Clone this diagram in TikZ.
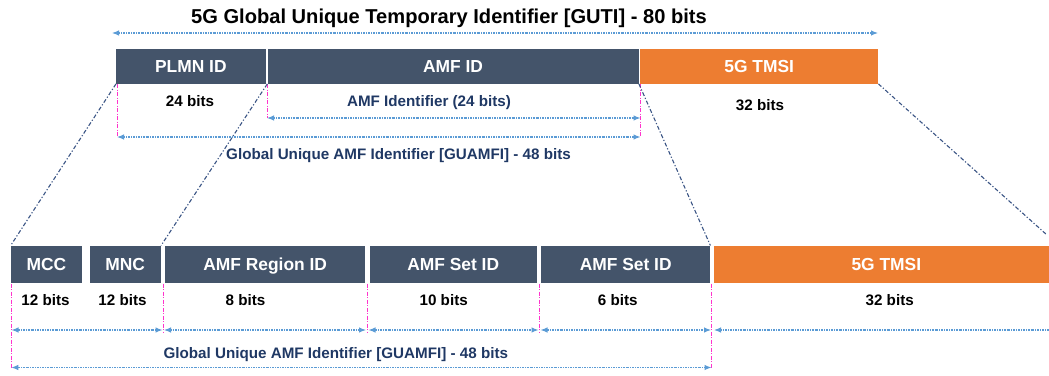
\documentclass[tikz,border=0pt]{standalone}
\usepackage{fontspec}
\setmainfont{Liberation Sans}
\usetikzlibrary{arrows.meta}
\definecolor{slate}{HTML}{44546A}
\definecolor{amber}{HTML}{ED7D31}
\definecolor{ink}{HTML}{1F3864}
\definecolor{sky}{HTML}{5B9BD5}
\definecolor{rose}{HTML}{FF33CC}
\definecolor{tie}{HTML}{3B5585}
\tikzset{
  field/.style={fill=slate, text=white, font=\fontsize{17.4}{20}\selectfont\bfseries,
    inner sep=0pt, text height=12.4pt, text depth=0pt, anchor=north west},
  orangefield/.style={field, fill=amber},
  span/.style={sky, line width=1.1pt, dash pattern=on 2pt off 1pt on 0.8pt off 1pt,
    {Latex[length=7pt,width=5.5pt]}-{Latex[length=7pt,width=5.5pt]}},
  halfspan/.style={sky, line width=1.1pt, dash pattern=on 2pt off 1pt on 0.8pt off 1pt,
    {Latex[length=7pt,width=5.5pt]}-},
  marker/.style={rose, line width=0.9pt, dash pattern=on 4pt off 1.5pt on 1pt off 1.5pt},
  link/.style={tie, line width=1.1pt, dash pattern=on 4pt off 2pt on 1.2pt off 2pt},
  bits/.style={font=\fontsize{15.2}{18}\selectfont\bfseries, anchor=base, inner sep=0pt},
  caption/.style={bits, text=ink},
}
\begin{document}
\begin{tikzpicture}[x=1pt,y=-1pt]
\useasboundingbox (0,0) rectangle (1049,375);

% title and overall width
\node[font=\fontsize{20.1}{24}\selectfont\bfseries, anchor=base, inner sep=0pt] (title) at (449,23.3)
  {5G Global Unique Temporary Identifier [GUTI] - 80 bits};
\coordinate (gutiL) at (112,33);
\coordinate (gutiR) at (878,33);
\draw[span] (gutiL) -- (gutiR);

% upper row of fields
\node[field, minimum width=149.3pt, minimum height=35.2pt] (plmn) at (116,48.3) {PLMN ID};
\node[field, minimum width=371.2pt, minimum height=35.2pt] (amf) at (267.3,48.3) {AMF ID};
\node[orangefield, minimum width=238pt, minimum height=35.2pt] (tmsiA) at (640,48.3) {5G TMSI};

\node[bits] (plmnBits) at (190,106.7) {24 bits};
\node[caption] (amfCap) at (429,106.7) {AMF Identifier (24 bits)};
\node[bits] (tmsiBits) at (760,110) {32 bits};
\node[caption] (guamfiCapA) at (398.5,159.3) {Global Unique AMF Identifier [GUAMFI] - 48 bits};

% upper markers and spans
\coordinate (mA1) at (117,137);
\coordinate (mA2) at (267,118);
\coordinate (mA3) at (640.5,137);
\coordinate (mA3b) at (640.5,118);
\draw[marker] (117,84) -- (mA1);
\draw[marker] (267,84) -- (mA2);
\draw[marker] (640.5,84) -- (mA3);
\draw[span] (mA2) -- (mA3b);
\draw[span] (mA1) -- (mA3);

% lower row of fields
\node[field, minimum width=71pt, minimum height=37.5pt] (mcc) at (10.7,245.5) {MCC};
\node[field, minimum width=71.4pt, minimum height=37.5pt] (mnc) at (89.3,245.5) {MNC};
\node[field, minimum width=200pt, minimum height=37.5pt] (region) at (165,245.5) {AMF Region ID};
\node[field, minimum width=167.4pt, minimum height=37.5pt] (setA) at (369.3,245.5) {AMF Set ID};
\node[field, minimum width=169pt, minimum height=37.5pt] (setB) at (541,245.5) {AMF Set ID};
\node[orangefield, minimum width=345.7pt, minimum height=37.5pt] (tmsiB) at (713.3,245.5) {5G TMSI};

\node[bits] (mccBits) at (45.5,305) {12 bits};
\node[bits] (mncBits) at (122.5,305) {12 bits};
\node[bits] (regionBits) at (245.5,305) {8 bits};
\node[bits] (setABits) at (443.7,305) {10 bits};
\node[bits] (setBBits) at (617.8,305) {6 bits};
\node[bits] (tmsiBBits) at (889.7,305) {32 bits};
\node[caption] (guamfiCapB) at (335.8,358.3) {Global Unique AMF Identifier [GUAMFI] - 48 bits};

% lower markers
\coordinate (b0) at (11.3,367.5);
\coordinate (b1) at (163.3,332);
\coordinate (b2) at (367,332);
\coordinate (b3) at (539.3,332);
\coordinate (b4) at (711.7,367.5);
\draw[marker] (11.3,283.5) -- (b0);
\draw[marker] (163.3,283.5) -- (b1);
\draw[marker] (367,283.5) -- (b2);
\draw[marker] (539.3,283.5) -- (b3);
\draw[marker] (711.7,283.5) -- (b4);

% lower spans
\coordinate (s0) at (11.5,330);
\coordinate (s1) at (162.5,330);
\coordinate (s2) at (164,330);
\coordinate (s3) at (366,330);
\coordinate (s4) at (368.5,330);
\coordinate (s5) at (538.5,330);
\coordinate (s6) at (540.5,330);
\coordinate (s7) at (711,330);
\coordinate (s8) at (714,330);
\coordinate (s9) at (1060,330);
\coordinate (s10) at (711.5,367.5);
\draw[span] (s0) -- (s1);
\draw[span] (s2) -- (s3);
\draw[span] (s4) -- (s5);
\draw[span] (s6) -- (s7);
\draw[halfspan] (s8) -- (s9);
\draw[span] (b0) -- (s10);

% expansion guides between the rows
\coordinate (edge) at (1047,235);
\draw[link] (plmn.south west) -- (mcc.north west);
\draw[link] (amf.south west) -- (mnc.north east);
\draw[link] (amf.south east) -- (setB.north east);
\draw[link] (tmsiA.south east) -- (edge);
\end{tikzpicture}
\end{document}
